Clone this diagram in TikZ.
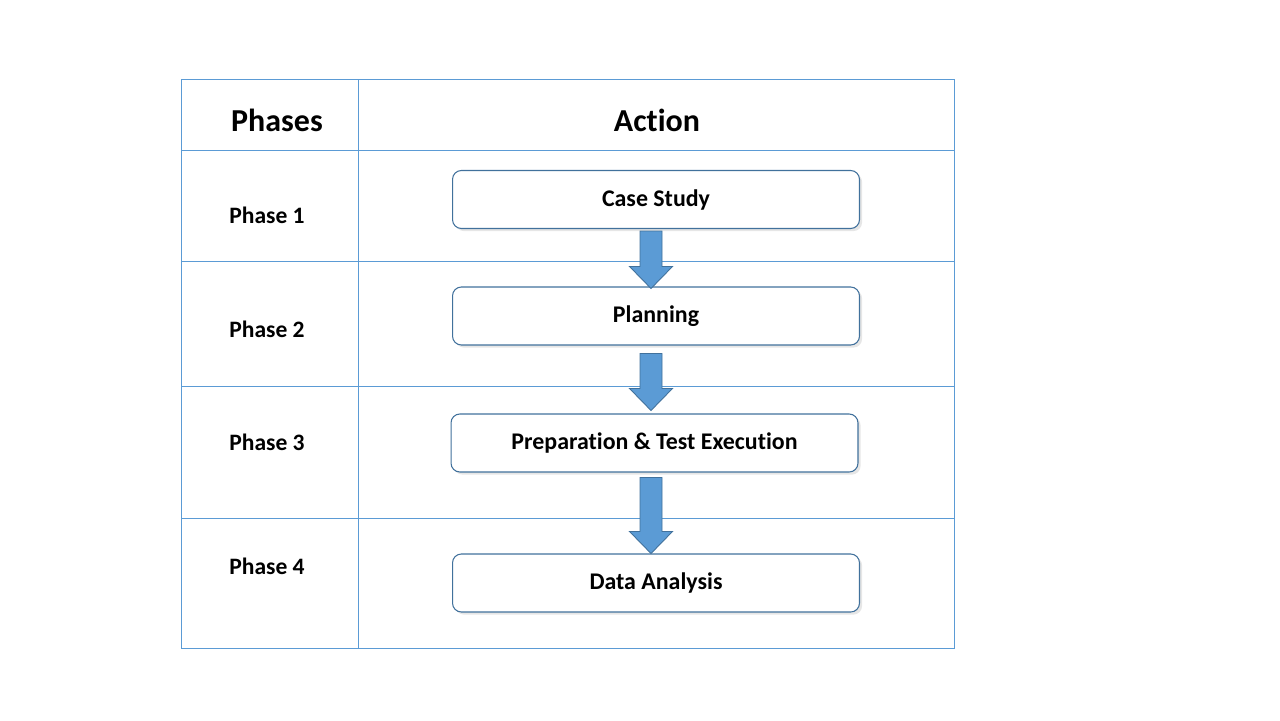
\documentclass[tikz,border=0pt]{standalone}
\usepackage{fontspec}
\setmainfont{Carlito}[Ligatures=NoCommon]
\usepackage{tikz}
\usetikzlibrary{calc}
\usetikzlibrary{positioning}
\usetikzlibrary{shadows}
\definecolor{tblline}{HTML}{5B9BD5}
\definecolor{boxline}{HTML}{41719C}
\definecolor{arrfill}{HTML}{5B9BD5}

% block arrow from a top point down to a tip point
\newcommand{\bigdown}[2]{%
  \draw[blockarr] ($(#1)+(-11,0)$) -- ($(#1)+(11,0)$) -- ($(#2)+(11,-22)$)
    -- ($(#2)+(21.5,-22)$) -- (#2) -- ($(#2)+(-21.5,-22)$)
    -- ($(#2)+(-11,-22)$) -- cycle;}

\begin{document}
\begin{tikzpicture}[
            x = 0.02cm, y = -0.02cm, % pixel grid, y down
            tbl/.style = {draw = tblline, line width = 0.45pt},
            header/.style = {font = \bfseries\fontsize{18.2}{21}\selectfont},
            phase/.style = {font = \bfseries\fontsize{13.4}{16}\selectfont},
            action/.style = {
                draw = boxline,
                fill = white,
                line width = 0.6pt,
                rounded corners = 5pt,
                minimum width = 8.14cm,
                minimum height = 1.16cm,
                font = \bfseries\fontsize{13.6}{16}\selectfont,
                drop shadow = {shadow xshift = 1.5pt, shadow yshift = -1.5pt,
                               fill = black!12, opacity = 0.8}
            },
            blockarr/.style = {draw = boxline, fill = arrfill, line width = 0.5pt}
        ]

        \useasboundingbox (0,0) rectangle (1280,720);

        % table grid
        \draw[tbl] (181,79) rectangle (954,648);
        \draw[tbl] (358,79) -- (358,648);
        \foreach \y in {150, 261, 386, 518}
            \draw[tbl] (181,\y) -- (954,\y);

        % header row
        \node[header] (hp) at (277,120) {Phases};
        \node[header] (ha) at (657,120) {Action};

        % phases column
        \node[phase] (p1) at (267,215) {Phase 1};
        \node[phase] (p2) at (267,329) {Phase 2};
        \node[phase] (p3) at (267,442) {Phase 3};
        \node[phase] (p4) at (267,566) {Phase 4};

        % action boxes
        \node[action] (cs) at (656,199.5) {Case Study};
        \node[action] (pl) at (656,316) {Planning};
        \node[action] (pt) at (654.5,443) {Preparation \& Test Execution};
        \node[action] (da) at (656,583) {Data Analysis};

        % arrows between the boxes
        \coordinate (a1) at ($(cs.south)+(-5,2)$);
        \coordinate (b1) at ($(pl.north)+(-5,2)$);
        \coordinate (a2) at ($(pl.south)+(-5,8)$);
        \coordinate (b2) at ($(pt.north)+(-3.5,-3)$);
        \coordinate (a3) at ($(pt.south)+(-3.5,5)$);
        \coordinate (b3) at ($(da.north)+(-5,0)$);
        \bigdown{a1}{b1}
        \bigdown{a2}{b2}
        \bigdown{a3}{b3}

\end{tikzpicture}
\end{document}
